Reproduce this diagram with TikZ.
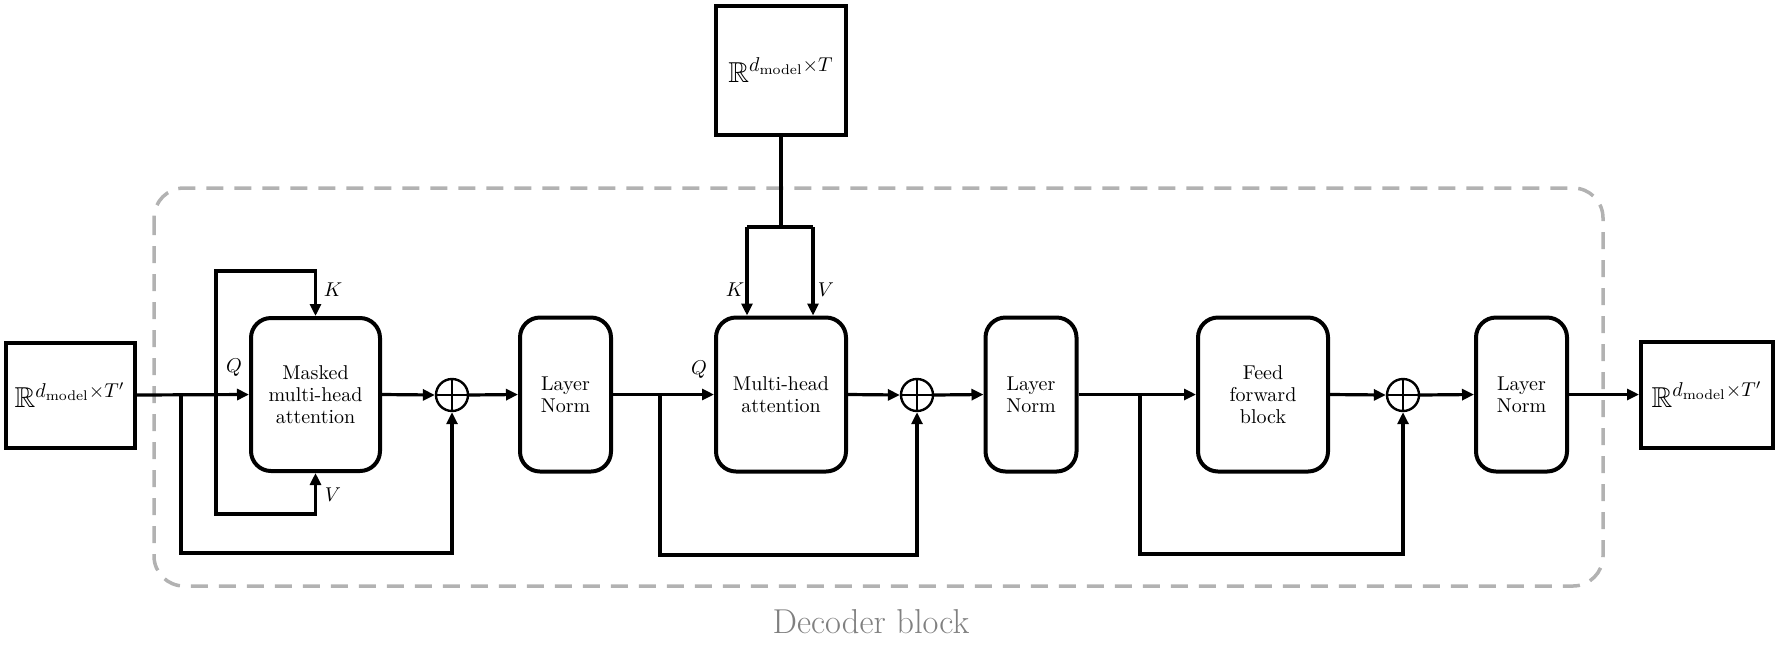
\documentclass[tikz,border=0pt]{standalone}
\usepackage{amsmath,amssymb}
\usetikzlibrary{arrows.meta}
\begin{document}
\begin{tikzpicture}[x=0.5pt,y=-0.5pt,
  conn/.style={line width=1.6pt,-{Triangle[length=6pt,width=5.5pt]}},
  wire/.style={line width=1.6pt},
  blk/.style={draw,line width=2pt,rounded corners=10pt,align=center,font=\fontsize{10}{11}\selectfont,inner sep=0pt,minimum height=77pt},
  tensor/.style={draw,line width=2pt,inner sep=0pt,font=\Large},
  sumnode/.style={circle,draw,line width=1.2pt,minimum size=16pt,inner sep=0pt,
    path picture={\draw[line width=1.2pt] (path picture bounding box.north) -- (path picture bounding box.south)
      (path picture bounding box.west) -- (path picture bounding box.east);}},
  lbl/.style={inner sep=0pt,font=\normalsize},
  frame/.style={draw=gray!60,line width=1.75pt,dash pattern=on 8.5pt off 5.5pt,rounded corners=15pt}
]
\useasboundingbox (0,0) rectangle (1776,660);

% decoder frame
\draw[frame] (154,188) rectangle (1603,586);
\node[font=\LARGE,text=gray,anchor=base,inner sep=0pt] (title) at (871,633) {Decoder block};

% tensors
\node[tensor,minimum width=64.5pt,minimum height=52.5pt] (in) at (70,395) {$\mathbb{R}^{d_{\mathrm{model}}\times T'}$};
\node[tensor,minimum width=65pt,minimum height=64.5pt] (kv) at (781,70) {$\mathbb{R}^{d_{\mathrm{model}}\times T}$};
\node[tensor,minimum width=66pt,minimum height=53pt] (out) at (1707,394.5) {$\mathbb{R}^{d_{\mathrm{model}}\times T'}$};

% blocks
\node[blk,minimum width=64.5pt,minimum height=76.5pt] (mmha) at (315.5,394.5) {Masked\\multi-head\\attention};
\node[blk,minimum width=45.5pt] (ln1) at (565.5,394.5) {Layer\\Norm};
\node[blk,minimum width=65pt] (mha) at (781,394.5) {Multi-head\\attention};
\node[blk,minimum width=45.5pt] (ln2) at (1031,394.5) {Layer\\Norm};
\node[blk,minimum width=65pt] (ff) at (1263,394.5) {Feed\\forward\\block};
\node[blk,minimum width=45.5pt] (ln3) at (1521.5,394.5) {Layer\\Norm};

% adders
\node[sumnode] (s1) at (452,395) {};
\node[sumnode] (s2) at (917,395) {};
\node[sumnode] (s3) at (1403,395) {};

% helper coordinates
\coordinate (b1) at (181,395);
\coordinate (b1d) at (181,553);
\coordinate (l1) at (216,395);
\coordinate (l1u) at (216,271);
\coordinate (l1d) at (216,514);
\coordinate (b2) at (660,395);
\coordinate (b2d) at (660,555);
\coordinate (b3) at (1140,395);
\coordinate (b3d) at (1140,554);
\coordinate (kvf) at (781,227);
\coordinate (kL) at (747,227);
\coordinate (kR) at (813,227);

% first sub-block
\draw[conn] (in.east) -- (mmha.west);
\draw[conn] (b1) -- (b1d) -| (s1.south);
\draw[conn] (l1) -- (l1u) -| (mmha.north);
\draw[conn] (l1) -- (l1d) -| (mmha.south);
\draw[conn] (mmha.east) -- (s1.west);
\draw[conn] (s1.east) -- (ln1.west);

% second sub-block
\draw[conn] (ln1.east) -- (mha.west);
\draw[conn] (b2) -- (b2d) -| (s2.south);
\draw[wire] (kv.south) -- (kvf);
\draw[wire] (kL) -- (kR);
\draw[conn] (kL) -- (kL |- mha.north);
\draw[conn] (kR) -- (kR |- mha.north);
\draw[conn] (mha.east) -- (s2.west);
\draw[conn] (s2.east) -- (ln2.west);

% third sub-block
\draw[conn] (ln2.east) -- (ff.west);
\draw[conn] (b3) -- (b3d) -| (s3.south);
\draw[conn] (ff.east) -- (s3.west);
\draw[conn] (s3.east) -- (ln3.west);
\draw[conn] (ln3.east) -- (out.west);

% labels
\node[lbl] (q1) at (234,368) {$Q$};
\node[lbl] (k1) at (333,290) {$K$};
\node[lbl] (v1) at (333,495) {$V$};
\node[lbl] (q2) at (699,370) {$Q$};
\node[lbl] (k2) at (735,290) {$K$};
\node[lbl] (v2) at (826,290) {$V$};
\end{tikzpicture}
\end{document}
